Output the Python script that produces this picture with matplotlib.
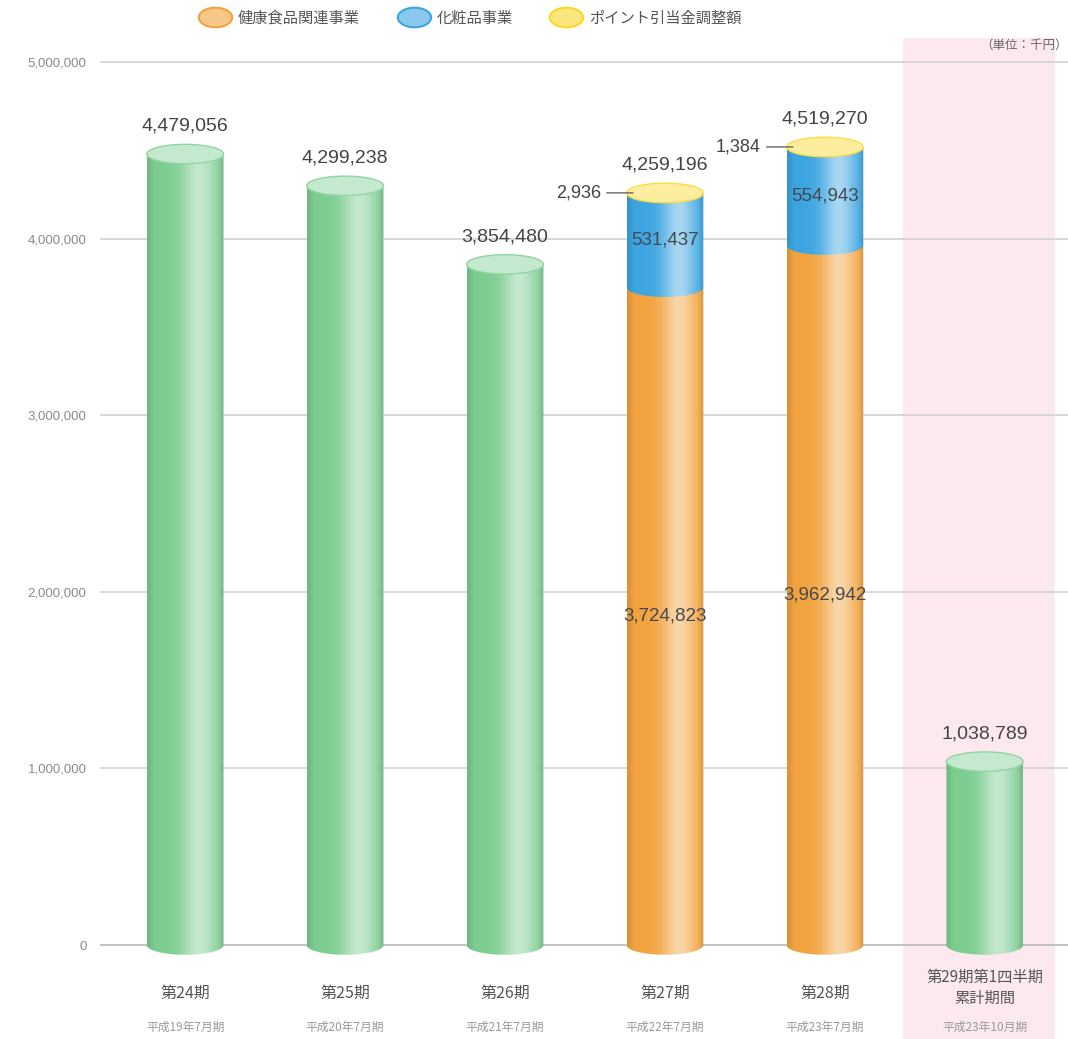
import numpy as np
import matplotlib
matplotlib.use("Agg")
import matplotlib.pyplot as plt
from matplotlib.patches import Ellipse, PathPatch, Rectangle
from matplotlib.path import Path
from matplotlib.lines import Line2D
from matplotlib.transforms import blended_transform_factory
from matplotlib.markers import MarkerStyle

plt.rcParams['font.family'] = ['Noto Sans CJK JP', 'DejaVu Sans']
NUM_FONT = ['Liberation Sans', 'DejaVu Sans']

# periods and sales (千円)
periods = ["第24期", "第25期", "第26期", "第27期", "第28期", "第29期第1四半期\n累計期間"]
subtitles = ["平成19年7月期", "平成20年7月期", "平成21年7月期",
             "平成22年7月期", "平成23年7月期", "平成23年10月期"]
totals = [4479056, 4299238, 3854480, 4259196, 4519270, 1038789]

# segment breakdown for the two segmented periods
health = [None, None, None, 3724823, 3962942, None]
cosmetics = [None, None, None, 531437, 554943, None]
points = [None, None, None, 2936, 1384, None]

legend_labels = ["健康食品関連事業", "化粧品事業", "ポイント引当金調整額"]
yticks = [0, 1000000, 2000000, 3000000, 4000000, 5000000]

GREEN = np.array([125, 205, 145]) / 255
ORANGE = np.array([243, 163, 62]) / 255
BLUE = np.array([60, 165, 225]) / 255
YELLOW = np.array([250, 215, 40]) / 255

BAR_W = 0.48
ELL_H = 110000


def gradient(base, n=80):
    t = np.linspace(0, 1, n)
    hl = 0.55 * np.exp(-((t - 0.68) / 0.22) ** 2)
    edge = 0.10 * (np.exp(-(t / 0.06) ** 2) + np.exp(-((1 - t) / 0.05) ** 2))
    col = base[None, :] * (1 - hl[:, None]) + hl[:, None]
    col = col * (1 - edge[:, None])
    return np.clip(col, 0, 1)[None, :, :]


def segment(ax, xc, bottom, top, base, z):
    x0, x1 = xc - BAR_W / 2, xc + BAR_W / 2
    a, b = BAR_W / 2, ELL_H / 2
    th = np.linspace(np.pi, 2 * np.pi, 40)
    arc = np.column_stack([xc + a * np.cos(th), bottom + b * np.sin(th)])
    verts = np.vstack([[x0, top], arc, [x1, top], [x0, top]])
    codes = [Path.MOVETO] + [Path.LINETO] * (len(verts) - 2) + [Path.CLOSEPOLY]
    clip = PathPatch(Path(verts, codes), transform=ax.transData, facecolor="none", edgecolor="none")
    ax.add_patch(clip)
    im = ax.imshow(gradient(base), extent=[x0, x1, bottom - b, top], aspect="auto",
                   interpolation="bilinear", zorder=z)
    im.set_clip_path(clip)


def cap(ax, xc, top, base, z):
    light = base * 0.45 + 0.55
    ax.add_patch(Ellipse((xc, top), BAR_W, ELL_H, facecolor=light,
                         edgecolor=base * 0.85 + 0.15, linewidth=1.0, zorder=z))


fig = plt.figure(figsize=(10.68, 10.39), dpi=100)
ax = fig.add_axes([0.094, 0.076, 0.906, 0.871])
ax.set_facecolor("none")
ax.set_xlim(-0.53, 5.52)
ax.set_ylim(-84900, 5039600)

# shaded band for the quarter period
band = Rectangle((4.49, 0), 0.95, 1 - 38 / 1039,
                 transform=blended_transform_factory(ax.transData, fig.transFigure),
                 facecolor="#fce8ef", edgecolor="none", zorder=0, clip_on=False)
ax.add_patch(band)

for yv in yticks:
    ax.axhline(yv, color="#d2d2d2" if yv else "#b8b8b8", linewidth=1.2, zorder=1)

x = np.arange(len(periods))
for i in x:
    if health[i] is None:
        segment(ax, i, 0, totals[i], GREEN, 3)
        cap(ax, i, totals[i], GREEN, 4)
    else:
        h, c, p = health[i], cosmetics[i], points[i]
        segment(ax, i, 0, h, ORANGE, 3)
        segment(ax, i, h, h + c, BLUE, 3.1)
        segment(ax, i, h + c, h + c + p, YELLOW, 3.2)
        cap(ax, i, h + c + p, YELLOW, 4)
        ax.text(i, h / 2, f"{h:,}", ha="center", va="center", fontsize=13.5,
                family=NUM_FONT, color="#45484f", zorder=6)
        ax.text(i, h + c / 2, f"{c:,}", ha="center", va="center", fontsize=13.5,
                family=NUM_FONT, color="#45484f", zorder=6)
        ax.annotate(f"{p:,}", xy=(i - BAR_W / 2 + 0.04, h + c + p),
                    xytext=(i - BAR_W / 2 - 0.3, h + c + p), ha="center", va="center",
                    fontsize=13, family=NUM_FONT, color="#444444", zorder=6,
                    arrowprops=dict(arrowstyle="-", color="#666666", lw=1,
                                    shrinkA=2, shrinkB=0))
    ax.annotate(f"{totals[i]:,}", xy=(i, totals[i]), xytext=(0, 20),
                textcoords="offset points", ha="center", va="center",
                fontsize=14, family=NUM_FONT, color="#444444", zorder=6)

ax.set_yticks(yticks)
ax.set_yticklabels([f"{v:,}" for v in yticks], fontsize=9.5, color="#8a8a8a",
                   family=NUM_FONT)
ax.tick_params(axis="y", length=0, pad=10)
ax.set_xticks([])
for s in ax.spines.values():
    s.set_visible(False)

tr = blended_transform_factory(ax.transData, fig.transFigure)
for i in x:
    if "\n" in periods[i]:
        ax.text(i, 1 - 988 / 1039, periods[i], transform=tr, ha="center", va="center",
                fontsize=11, color="#555555", linespacing=1.3)
    else:
        ax.text(i, 1 - 993 / 1039, periods[i], transform=tr, ha="center", va="center",
                fontsize=11.5, color="#555555")
    ax.text(i, 1 - 1027 / 1039, subtitles[i], transform=tr, ha="center", va="center",
            fontsize=8.5, color="#9a9a9a")

# legend with cylinder-top style markers
th = np.linspace(0, 2 * np.pi, 60)
ell = Path(np.column_stack([1.7 * np.cos(th), np.sin(th)]))
handles = [Line2D([], [], linestyle="none", marker=MarkerStyle(ell), markersize=24,
                  markerfacecolor=c * 0.6 + 0.4, markeredgecolor=c, markeredgewidth=1.5)
           for c in (ORANGE, BLUE, YELLOW)]
fig.legend(handles, legend_labels, loc="center", bbox_to_anchor=(470 / 1068, 1 - 18 / 1039),
           ncol=3, frameon=False, fontsize=11, labelcolor="#555555",
           handletextpad=0.4, columnspacing=2.4, handlelength=2.2)

fig.text(1068 / 1068, 1 - 45 / 1039, "（単位：千円）", ha="right", va="center",
         fontsize=9, color="#666666")

fig.savefig("out.png", dpi=100)
